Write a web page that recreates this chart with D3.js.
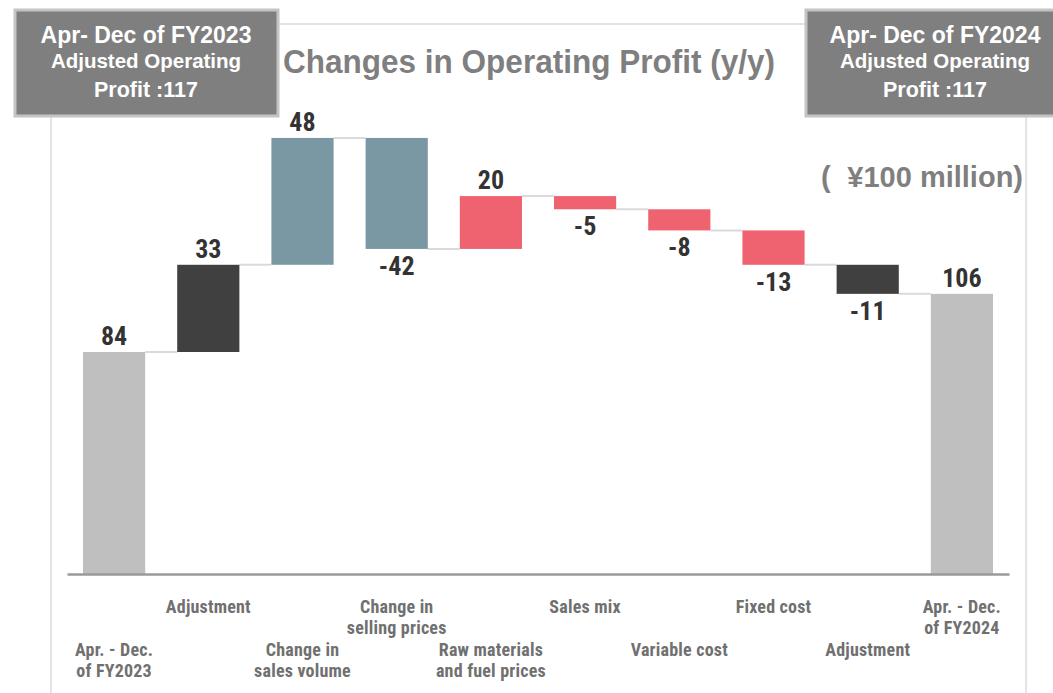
<!DOCTYPE html>
<html>
<head>
<meta charset="utf-8">
<script src="https://cdn.jsdelivr.net/npm/d3@7/dist/d3.min.js"></script>
<style>
  html, body { margin: 0; padding: 0; background: #ffffff; }
  svg { display: block; }
</style>
</head>
<body>
<svg id="chart" width="1053" height="693"></svg>
<script>
// ---------- data ----------
const categories = [
  ["Apr. - Dec.", "of FY2023"],
  ["Adjustment"],
  ["Change in", "sales volume"],
  ["Change in", "selling prices"],
  ["Raw materials", "and fuel prices"],
  ["Sales mix"],
  ["Variable cost"],
  ["Fixed cost"],
  ["Adjustment"],
  ["Apr. - Dec.", "of FY2024"]
];
const values = [84, 33, 48, -42, 20, -5, -8, -13, -11, 106];
const kinds  = ["total", "adjust", "volume", "volume", "cost", "cost", "cost", "cost", "adjust", "total"];
const labelRow = [1, 0, 1, 0, 1, 0, 1, 0, 1, 0];
const title = "Changes in Operating Profit (y/y)";
const unitParen = "(";
const unitLabel = "¥100 million)";
const leftBox = ["Apr- Dec of FY2023", "Adjusted Operating", "Profit :117"];
const rightBox = ["Apr- Dec of FY2024", "Adjusted Operating", "Profit :117"];

// ---------- styles ----------
const colors = { total: "#bfbfbf", adjust: "#404040", volume: "#7a98a3", cost: "#ef6371" };
const narrow = "'Liberation Sans Narrow', 'Arial Narrow', 'Roboto Condensed', sans-serif";
const sans = "'Liberation Sans', Arial, Helvetica, sans-serif";

const svg = d3.select("#chart");

// compute waterfall steps
let run = 0;
const steps = values.map((v, i) => {
  let lo, hi;
  if (kinds[i] === "total") { lo = 0; hi = v; run = v; }
  else { const start = run; run = run + v; lo = Math.min(start, run); hi = Math.max(start, run); }
  return { i, v, lo, hi, end: run, kind: kinds[i] };
});

const x = d3.scaleBand().domain(d3.range(values.length)).range([67, 1009]).paddingInner(0.34).paddingOuter(0.17);
const y = d3.scaleLinear().domain([0, 84]).range([574, 352]);

// frame
svg.append("rect").attr("x", 51).attr("y", 24).attr("width", 975).attr("height", 720)
  .attr("fill", "none").attr("stroke", "#dcdcdc").attr("stroke-width", 1.5);

// connectors
const g = svg.append("g");
g.selectAll("line.conn").data(steps.slice(0, -1)).join("line")
  .attr("class", "conn")
  .attr("x1", d => x(d.i) + x.bandwidth())
  .attr("x2", d => x(d.i + 1))
  .attr("y1", d => y(d.end)).attr("y2", d => y(d.end))
  .attr("stroke", "#dadada").attr("stroke-width", 2);

// bars
g.selectAll("rect.bar").data(steps).join("rect")
  .attr("class", "bar")
  .attr("x", d => x(d.i))
  .attr("width", x.bandwidth())
  .attr("y", d => y(d.hi))
  .attr("height", d => y(d.lo) - y(d.hi))
  .attr("fill", d => colors[d.kind]);

// axis baseline
const xAxis = d3.axisBottom(x).tickSize(0).tickFormat("");
const ax = svg.append("g").attr("transform", `translate(0,${y(0)})`).call(xAxis);
ax.select(".domain").attr("stroke", "#9a9a9a").attr("stroke-width", 2.5);

// value labels
g.selectAll("text.val").data(steps).join("text")
  .attr("class", "val")
  .attr("x", d => x(d.i) + x.bandwidth() / 2)
  .attr("y", d => (d.v >= 0 ? y(d.hi) - 7 : y(d.lo) + 26))
  .attr("text-anchor", "middle")
  .attr("font-family", narrow).attr("font-weight", "bold").attr("font-size", 26)
  .attr("fill", "#333333")
  .text(d => d.v);

// category labels (one text per line)
const cl = svg.append("g");
categories.forEach((lines, i) => {
  const baseY = labelRow[i] === 0 ? 613 : 656;
  lines.forEach((ln, k) => {
    cl.append("text")
      .attr("x", x(i) + x.bandwidth() / 2)
      .attr("y", baseY + k * 21)
      .attr("text-anchor", "middle")
      .attr("font-family", narrow).attr("font-weight", "bold").attr("font-size", 18)
      .attr("letter-spacing", 0.2)
      .attr("fill", "#707070")
      .text(ln);
  });
});

// title
svg.append("text")
  .attr("x", 283).attr("y", 73)
  .attr("font-family", sans).attr("font-weight", "bold").attr("font-size", 34)
  .attr("fill", "#7f7f7f")
  .attr("textLength", 492).attr("lengthAdjust", "spacingAndGlyphs")
  .text(title);

// unit label
svg.append("text")
  .attr("x", 821).attr("y", 187)
  .attr("font-family", sans).attr("font-weight", "bold").attr("font-size", 29)
  .attr("fill", "#7f7f7f")
  .text(unitParen);
svg.append("text")
  .attr("x", 1023).attr("y", 187)
  .attr("text-anchor", "end")
  .attr("font-family", sans).attr("font-weight", "bold").attr("font-size", 29)
  .attr("fill", "#7f7f7f")
  .text(unitLabel);

// boxes
function drawBox(bx, by, bw, bh, lines, cx) {
  const b = svg.append("g");
  b.append("rect").attr("x", bx).attr("y", by).attr("width", bw).attr("height", bh)
    .attr("fill", "#7f7f7f").attr("stroke", "#c4c4c4").attr("stroke-width", 3);
  const sizes = [23, 20.5, 21.5];
  const ys = [43, 68, 97];
  lines.forEach((ln, k) => {
    b.append("text").attr("x", cx).attr("y", ys[k])
      .attr("text-anchor", "middle")
      .attr("font-family", sans).attr("font-weight", "bold").attr("font-size", sizes[k])
      .attr("fill", "#ffffff").text(ln);
  });
}
drawBox(15, 10, 263, 106, leftBox, 146);
drawBox(806, 10, 260, 106, rightBox, 935);
</script>
</body>
</html>
